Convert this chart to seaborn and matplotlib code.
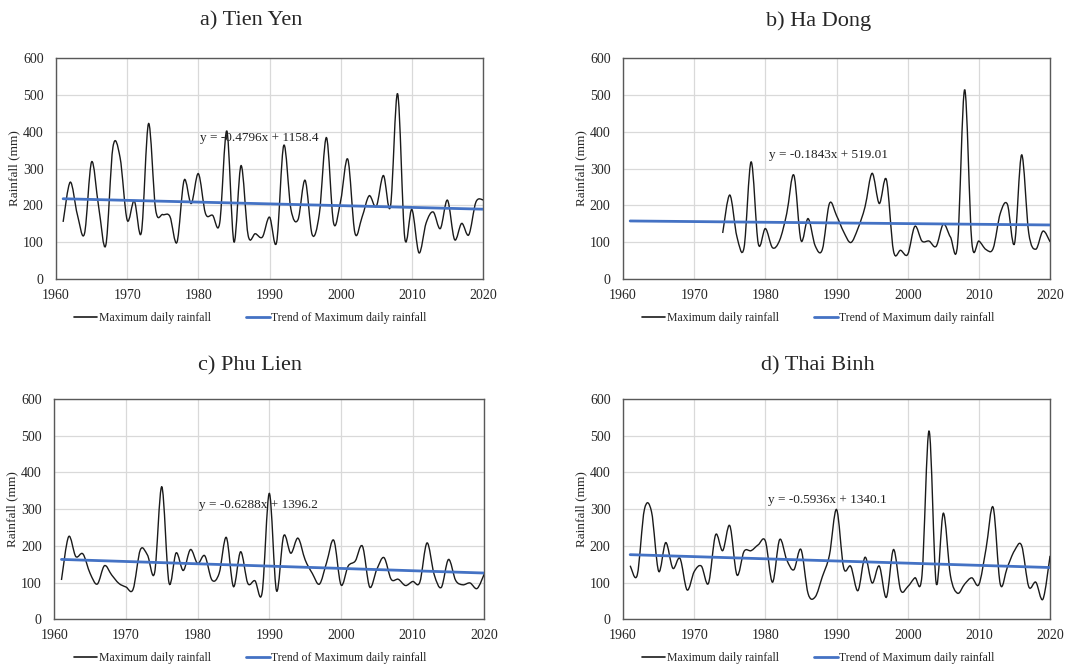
import numpy as np
import pandas as pd
import seaborn as sns
import matplotlib.pyplot as plt
from matplotlib.path import Path
from matplotlib.patches import PathPatch
from matplotlib.lines import Line2D

# Dados (chuva máxima diária, mm)
anos = np.arange(1961, 2021)
anos_ha_dong = np.arange(1974, 2021)

tien_yen = [155, 263, 175, 123, 318, 195, 92, 358, 330, 160,
            212, 127, 422, 188, 175, 170, 100, 268, 205, 286,
            178, 173, 152, 402, 101, 308, 118, 123, 114, 168,
            100, 363, 190, 161, 268, 120, 177, 384, 152, 213,
            325, 125, 168, 226, 197, 281, 198, 503, 112, 189,
            71, 152, 182, 137, 214, 107, 151, 120, 209, 215]

ha_dong = [125, 228, 115, 85, 318, 96, 137,
           85, 105, 178, 282, 105, 164, 90, 80, 205, 172,
           128, 99, 137, 196, 287, 205, 270, 76, 78, 67,
           143, 103, 103, 89, 149, 114, 94, 514, 101, 103,
           80, 83, 178, 203, 96, 337, 125, 81, 130, 101]

phu_lien = [107, 225, 171, 178, 125, 96, 146, 121, 98, 88,
            82, 189, 175, 127, 361, 100, 181, 133, 190, 152,
            173, 107, 125, 223, 89, 184, 98, 105, 73, 343,
            78, 227, 180, 221, 162, 125, 96, 155, 215, 94,
            145, 159, 199, 88, 136, 168, 109, 109, 92, 103,
            101, 208, 122, 87, 163, 106, 94, 99, 84, 124]

thai_binh = [146, 121, 299, 293, 131, 209, 139, 166, 80, 130,
             145, 98, 230, 187, 255, 121, 185, 187, 203, 213,
             101, 217, 162, 135, 190, 70, 61, 116, 175, 299,
             140, 144, 78, 169, 99, 145, 60, 190, 80, 89,
             113, 119, 513, 98, 289, 119, 71, 96, 113, 95,
             192, 305, 96, 142, 187, 201, 89, 101, 55, 173]

# Equações de tendência (como aparecem no gráfico)
titulos = ['a) Tien Yen', 'b) Ha Dong', 'c) Phu Lien', 'd) Thai Binh']
inclinacoes = [-0.4796, -0.1843, -0.6288, -0.5936]
interceptos = [1158.4, 519.01, 1396.2, 1340.1]
equacoes = ['y = -0.4796x + 1158.4', 'y = -0.1843x + 519.01',
            'y = -0.6288x + 1396.2', 'y = -0.5936x + 1340.1']
pos_equacao = [(1980.3, 382), (1980.5, 337), (1980.2, 311), (1980.4, 325)]

series = [(anos, tien_yen), (anos_ha_dong, ha_dong), (anos, phu_lien), (anos, thai_binh)]

sns.set_theme(style="whitegrid")
plt.rcParams['font.family'] = ['Liberation Serif', 'DejaVu Serif']

fig = plt.figure(figsize=(10.77, 6.67), dpi=100)

# posições dos eixos (fração da figura)
caixas = [[0.052, 0.5817, 0.3965, 0.3313],
          [0.5785, 0.5817, 0.3965, 0.3313],
          [0.0504, 0.0715, 0.3993, 0.3303],
          [0.5785, 0.0715, 0.3965, 0.3303]]
centros_titulo = [(251, 21), (819, 21), (250, 366), (818, 366)]
centros_legenda = [(250, 318), (818, 318), (250, 658), (818, 658)]


def curva_suave(x, y):
    # curva suavizada estilo Excel (Bezier passando pelos pontos)
    pts = np.column_stack([x, y]).astype(float)
    verts = [pts[0]]
    codes = [Path.MOVETO]
    n = len(pts)
    for i in range(n - 1):
        p0 = pts[max(i - 1, 0)]
        p1 = pts[i]
        p2 = pts[i + 1]
        p3 = pts[min(i + 2, n - 1)]
        verts += [p1 + (p2 - p0) / 6, p2 - (p3 - p1) / 6, p2]
        codes += [Path.CURVE4] * 3
    return Path(verts, codes)


for i in range(4):
    ax = fig.add_axes(caixas[i])
    x, y = series[i]
    df = pd.DataFrame({'ano': x, 'chuva': y})

    patch = PathPatch(curva_suave(df['ano'], df['chuva']), facecolor='none',
                      edgecolor='#1a1a1a', lw=1.0, zorder=3)
    ax.add_patch(patch)

    tend = pd.DataFrame({'ano': anos, 'tendencia': inclinacoes[i] * anos + interceptos[i]})
    sns.lineplot(data=tend, x='ano', y='tendencia', color='#4472C4', lw=2, ax=ax, zorder=4)

    ax.set_xlim(1960, 2020)
    ax.set_ylim(0, 600)
    ax.set_xticks(range(1960, 2021, 10))
    ax.set_yticks(range(0, 601, 100))
    ax.tick_params(labelsize=10, length=0)
    ax.tick_params(axis='y', pad=9)
    ax.tick_params(axis='x', pad=7)
    ax.set_xlabel('')
    ax.set_ylabel('Rainfall (mm)', fontsize=9.5, labelpad=2)
    ax.grid(color='#d9d9d9', lw=0.9)
    for s in ax.spines.values():
        s.set_color('#595959')
        s.set_linewidth(1.0)

    ax.text(pos_equacao[i][0], pos_equacao[i][1], equacoes[i], fontsize=9.5,
            ha='left', va='center', color='#222222', zorder=5)

    cx, cy = centros_titulo[i]
    fig.text(cx / 1077, 1 - cy / 667, titulos[i], fontsize=16, ha='center', va='center')

    handles = [Line2D([], [], color='#1a1a1a', lw=1.2),
               Line2D([], [], color='#4472C4', lw=2)]
    lx, ly = centros_legenda[i]
    fig.legend(handles, ['Maximum daily rainfall', 'Trend of Maximum daily rainfall'],
               loc='center', bbox_to_anchor=(lx / 1077, 1 - ly / 667), ncol=2,
               frameon=False, fontsize=8.5, handlelength=2.0, handletextpad=0.1,
               columnspacing=3.0)

plt.savefig('out.png', dpi=100)
